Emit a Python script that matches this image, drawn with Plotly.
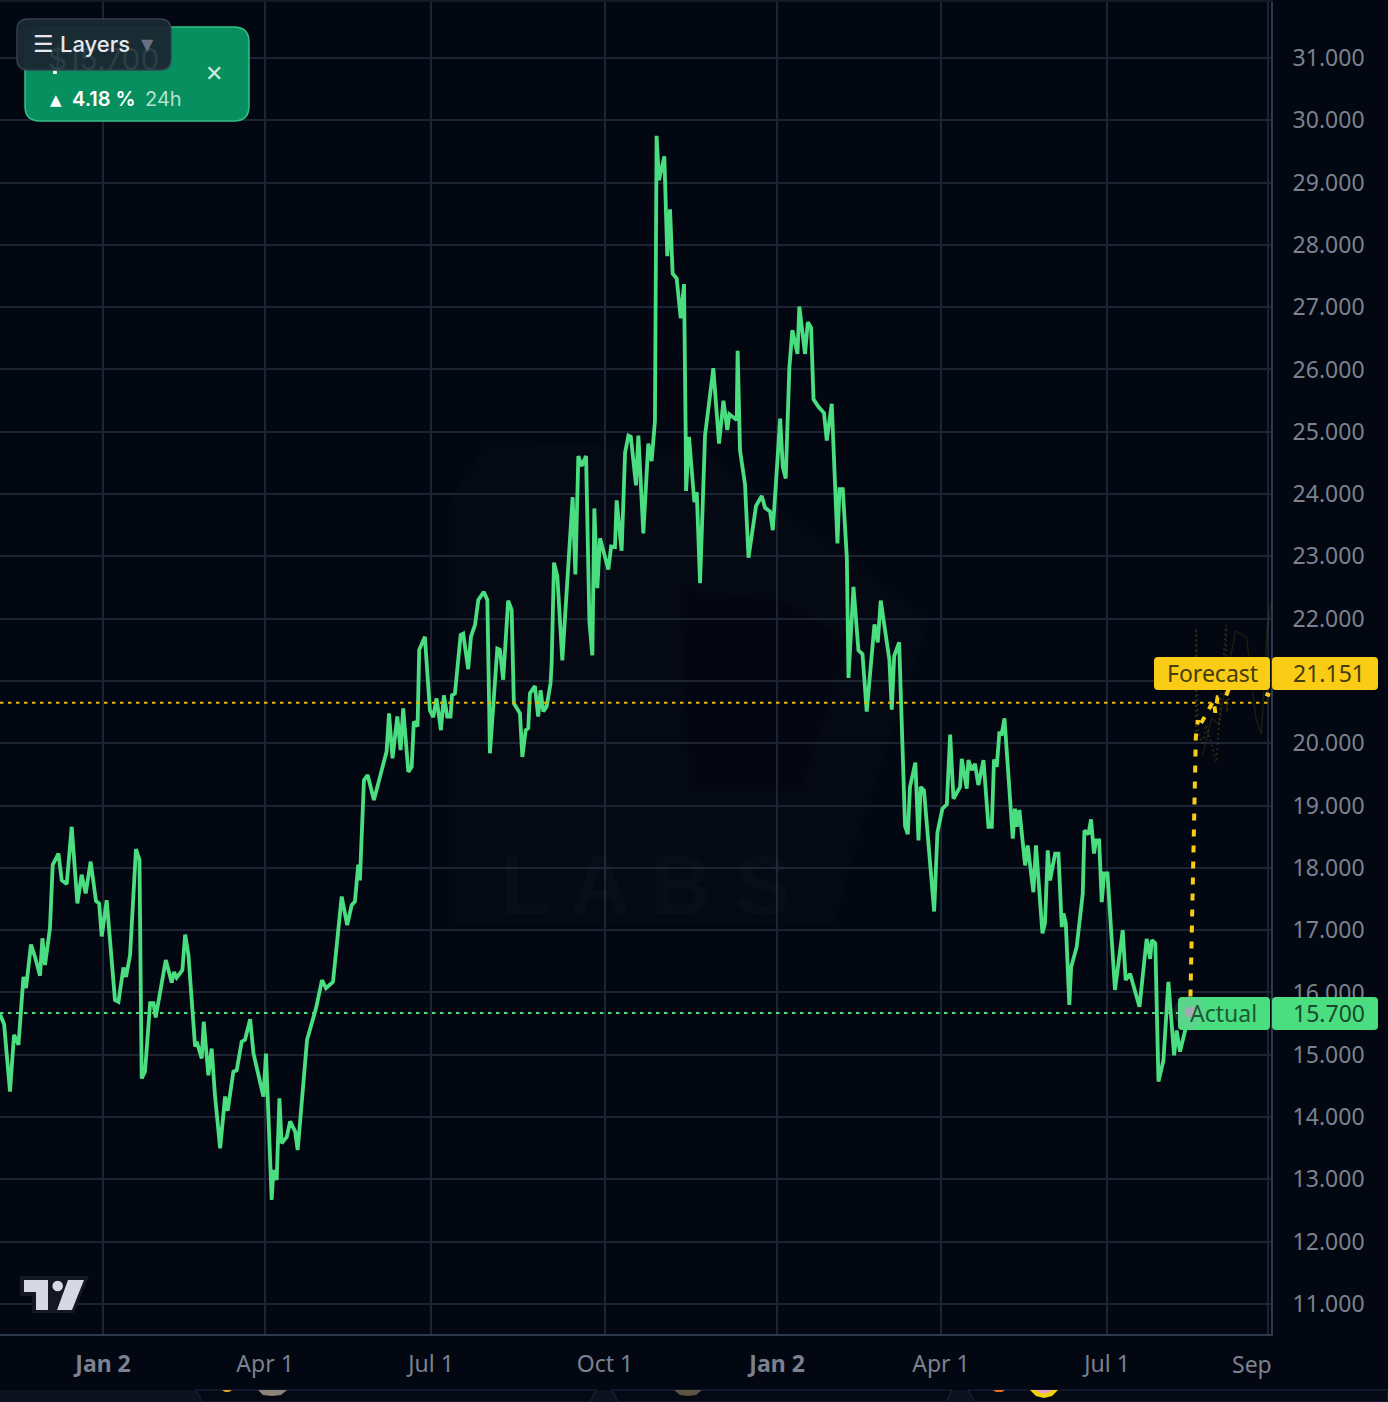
import plotly.graph_objects as go

# ---- data ----
actual_day = [-55.9,-53.7,-50.5,-48.3,-45.9,-43.2,-41.8,-39.1,-36.9,-34.2,-32.9,-31.5,-28.8,-27.3,-24.2,-22.4,-19.7,-17.0,-13.9,-11.6,-9.4,-6.7,-3.8,-2.1,-0.7,2.0,6.5,8.4,11.1,12.5,14.7,17.9,19.8,21.0,22.8,25.6,27.4,28.6,34.1,37.3,38.6,40.0,43.1,44.6,46.4,50.0,50.9,53.6,54.7,57.2,59.0,60.8,63.6,66.3,67.7,70.8,72.6,75.3,77.1,79.9,81.7,84.9,87.1,88.5,91.6,92.5,94.3,95.8,97.0,99.8,101.6,104.3,105.7,
110.8,112.4,115.7,118.9,121.1,124.9,126.8,129.6,132.6,135.0,136.8,138.6,139.5,141.7,143.7,147.1,154.0,155.3,157.2,159.8,161.6,163.0,165.8,167.6,168.8,170.8,171.7,174.8,177.5,179.3,181.1,183.5,185.1,186.9,188.7,189.5,191.1,194.2,195.6,198.3,199.8,202.0,203.8,206.8,208.7,210.1,214.1,215.5,217.3,220.0,221.9,223.1,226.4,227.7,229.5,230.9,231.8,234.5,236.3,237.6,239.1,240.9,243.0,
243.6,244.9,246.7,249.4,251.8,255.0,256.5,258.1,259.9,262.3,264.1,265.7,266.8,268.4,269.9,271.7,274.4,275.9,278.0,278.9,281.6,283.5,285.3,286.6,289.4,290.7,293.4,296.1,297.9,299.7,300.6,301.9,304.8,306.4,307.9,309.3,311.5,313.7,315.5,316.4,316.6,318.2,321.1,322.4,324.2,326.9,331.4,334.5,336.9,339.0,340.1,344.1,344.6,
345.9,348.6,350.5,354.6,357.7,359.5,362.2,363.7,367.7,369.1,370.7,372.7,374.3,377.1,378.1,381.2,382.7,384.5,385.8,388.5,391.5,393.0,395.7,398.8,399.9,401.7,403.9,404.8,407.5,410.2,412.4,414.7,418.9,420.7,422.3,427.0,428.3,429.6,432.3,433.7,435.5,437.0,438.2,441.1,442.8,444.0,445.8,451.3,453.1,455.8,458.2,460.0,461.8,465.4,
466.3,469.0,469.9,471.7,473.5,475.3,478.1,480.8,482.6,483.8,485.3,486.7,488.0,489.5,494.0,495.2,496.2,497.6,500.7,502.1,503.4,505.2,506.6,510.1,511.5,513.0,514.2,517.0,518.8,520.6,521.5,522.8,524.7,525.7,528.7,532.0,532.9,535.1,536.5,538.1,539.2,540.9,542.3,543.6,545.4,549.5,553.7,555.3,557.7,562.8,566.7,568.6,569.5,571.4,573.1,575.8,578.5,581.6,583.0,584.8,587.6,590.3]
actual_value = [15.65,15.49,14.41,15.32,15.16,16.25,16.07,16.77,16.57,16.27,16.87,16.44,17.03,18.05,18.23,17.80,17.74,18.66,17.43,17.89,17.59,18.10,17.47,17.43,16.90,17.48,15.88,15.85,16.40,16.25,16.60,18.30,18.13,14.62,14.73,15.83,15.83,15.60,16.52,16.16,16.33,16.24,16.36,16.93,16.60,15.13,15.21,14.94,15.53,14.67,15.10,14.35,13.50,14.33,14.10,14.73,14.75,15.21,15.24,15.57,15.02,14.57,14.33,15.02,12.67,13.15,12.99,14.30,13.58,13.68,13.93,13.77,13.47,
15.24,15.40,15.75,16.20,16.07,16.17,16.73,17.54,17.08,17.40,17.46,18.05,17.80,19.41,19.49,19.09,19.87,20.48,19.76,20.43,19.89,20.56,19.54,19.62,20.35,20.27,21.50,21.71,20.53,20.42,20.72,20.21,20.77,20.43,20.43,20.77,20.80,21.74,21.76,21.19,21.71,21.90,22.30,22.43,22.30,19.84,21.52,21.50,21.02,22.29,22.14,20.64,20.48,19.78,20.21,20.24,20.80,20.92,20.43,20.85,20.51,20.59,20.96,
21.27,22.90,22.68,21.33,22.46,23.95,22.71,24.61,24.45,24.61,21.96,21.41,23.77,22.49,23.29,23.07,22.79,23.16,23.15,23.90,23.09,24.67,24.94,24.92,24.14,24.94,23.37,24.81,24.53,25.17,29.75,29.04,29.42,27.82,28.57,27.54,27.46,26.82,27.37,24.94,24.05,24.92,23.87,24.03,22.57,24.94,26.02,24.81,25.50,25.03,25.28,25.19,26.30,
24.70,24.16,22.98,23.81,23.97,23.78,23.72,23.42,25.21,24.44,24.25,26.03,26.63,26.25,27.01,26.25,26.76,26.67,25.52,25.40,25.30,24.86,25.45,23.21,24.08,24.08,22.98,21.05,22.51,21.49,21.43,20.51,21.91,21.62,22.29,21.34,20.54,21.40,21.62,20.51,18.67,18.54,19.30,19.69,18.44,19.30,19.24,17.30,18.57,18.95,19.02,20.14,19.11,19.30,
19.75,19.27,19.73,19.57,19.67,19.33,19.73,18.66,18.66,19.74,19.62,20.16,20.15,20.40,18.47,18.95,18.66,18.93,18.04,18.36,18.02,17.61,18.36,16.95,17.11,18.28,17.80,18.23,18.23,17.05,17.27,17.11,15.80,16.41,16.73,17.59,18.60,18.54,18.78,18.23,18.44,18.44,17.45,17.91,17.91,16.04,17.00,16.20,16.30,15.77,16.86,16.54,16.84,16.79,14.57,14.91,16.17,14.99,15.39,15.05,15.39,15.68]

forecast_day = [590.3,593.4,594.5,595.0,599.5,603.0,604.0,605.2,609.5,613.0,620.0,626.0,629.3,633.7]
forecast_value = [15.68,20.10,20.37,20.26,20.49,20.69,20.49,20.74,20.74,21.00,21.15,21.05,20.81,20.77]

scenario_a_day = [593.4,593.6,594.5,597.0,599.0,604.5,609.8,610.2,612.0]
scenario_a_value = [20.10,21.85,20.20,20.00,20.30,19.70,21.90,20.50,20.90]
scenario_b_day = [597.0,602.0,606.0,611.0,615.0,621.0,626.0,629.0,632.0,634.5]
scenario_b_value = [19.80,20.40,20.30,21.20,21.80,21.70,20.40,20.15,21.80,22.30]

price_ticks = list(range(11, 32))
price_labels = [f"{v}.000" for v in price_ticks]
day_ticks = [0, 88, 178.1, 272.6, 366, 455, 545.2, 632.6]
day_labels = ["<b>Jan 2</b>", "Apr 1", "Jul 1", "Oct 1", "<b>Jan 2</b>", "Apr 1", "Jul 1", ""]
actual_level = 15.67
forecast_level = 20.65
actual_label = "15.700"
forecast_label = "21.151"

# ---- layout constants ----
W, H, PW, PH = 1388, 1402, 1273, 1335
BG = "#030712"
GRID = "#1c2332"
AXIS = "#2e394d"
GREEN = "#4ade80"
YELLOW = "#facc15"
TICK = "#7b818e"

def X(p): return p / PW
def Y(p): return 1 - p / PH

def poly(pts):
    return "M " + " L ".join(f"{X(a):.5f} {Y(b):.5f}" for a, b in pts) + " Z"

def rrect(x0, y0, x1, y1, r):
    def P(a, b): return f"{X(a):.5f} {Y(b):.5f}"
    return (f"M {P(x0+r,y0)} L {P(x1-r,y0)} Q {P(x1,y0)} {P(x1,y0+r)} L {P(x1,y1-r)} Q {P(x1,y1)} {P(x1-r,y1)} "
            f"L {P(x0+r,y1)} Q {P(x0,y1)} {P(x0,y1-r)} L {P(x0,y0+r)} Q {P(x0,y0)} {P(x0+r,y0)} Z")

def shape_path(path, fill, line=None, lw=0, layer="above"):
    return dict(type="path", xref="paper", yref="paper", path=path, fillcolor=fill,
                line=dict(color=line or "rgba(0,0,0,0)", width=lw), layer=layer)

def circle(cx, cy, r, fill):
    return dict(type="circle", xref="paper", yref="paper", x0=X(cx-r), x1=X(cx+r), y0=Y(cy+r), y1=Y(cy-r),
                fillcolor=fill, line=dict(width=0), layer="above")

def text(t, x, y, size, color, anchor="left", family="Noto Sans", weight=None):
    font = dict(size=size, color=color, family=family)
    if weight:
        font["weight"] = weight
    return dict(text=t, xref="paper", yref="paper", x=X(x), y=Y(y), xanchor=anchor, yanchor="middle",
                showarrow=False, font=font, borderpad=0, borderwidth=0)

fig = go.Figure()
fig.add_trace(go.Scatter(x=scenario_a_day, y=scenario_a_value, mode="lines", hoverinfo="skip",
                         line=dict(color="rgba(250,204,21,0.16)", width=2, dash="2px,3px")))
fig.add_trace(go.Scatter(x=scenario_b_day, y=scenario_b_value, mode="lines", hoverinfo="skip",
                         line=dict(color="rgba(250,204,21,0.10)", width=1.5)))
fig.add_trace(go.Scatter(x=actual_day, y=actual_value, mode="lines", name="Actual",
                         line=dict(color=GREEN, width=3.8)))
fig.add_trace(go.Scatter(x=forecast_day, y=forecast_value, mode="lines", name="Forecast",
                         line=dict(color=YELLOW, width=4, dash="7px,9px")))

shapes = [
    # faint watermark
    shape_path(poly([(450,500),(490,440),(700,450),(930,620),(860,830),(835,925),(450,925)]), "rgba(255,255,255,0.012)", layer="below"),
    shape_path(poly([(680,590),(780,600),(850,640),(800,790),(690,790)]), "rgba(0,0,0,0.12)", layer="below"),
    # price-level lines
    dict(type="line", xref="paper", yref="y", x0=0, x1=X(1178), y0=actual_level, y1=actual_level,
         line=dict(color=GREEN, width=2, dash="3.5px,4.5px"), layer="above"),
    dict(type="line", xref="paper", yref="y", x0=0, x1=X(1270), y0=forecast_level, y1=forecast_level,
         line=dict(color="#e3b80f", width=2, dash="3.5px,4.5px"), layer="above"),
    # axis borders
    dict(type="line", xref="paper", yref="paper", x0=X(1272), x1=X(1272), y0=Y(0), y1=Y(1335), line=dict(color=AXIS, width=2), layer="above"),
    dict(type="line", xref="paper", yref="paper", x0=0, x1=X(1273), y0=Y(1335), y1=Y(1335), line=dict(color=AXIS, width=2), layer="above"),
    dict(type="line", xref="paper", yref="paper", x0=0, x1=X(1273), y0=Y(1), y1=Y(1), line=dict(color="#131926", width=2), layer="above"),
    # price labels
    shape_path(rrect(1154,657,1270,690,4), YELLOW),
    shape_path(rrect(1272,657,1378,690,4), YELLOW),
    shape_path(rrect(1178,997,1270,1030,4), GREEN),
    shape_path(rrect(1272,997,1378,1030,4), GREEN),
    # last-price marker
    circle(1190,1012,16,"rgba(170,175,190,0.16)"),
    circle(1190,1012,5.5,"#a7a9b8"),
    # card
    shape_path(rrect(25,27,249,121,15), "#078f5f", "#33c08a", 1.5),
    shape_path(rrect(53,68,57,74,0.5), "#e6f5ee"),
    shape_path(rrect(17,19,171,70,11), "rgba(26,40,50,0.97)", "#343e52", 1.5),
    # TradingView mark
    shape_path(poly([(20,1276),(89,1276),(74,1313),(32,1313),(32,1296),(20,1296)]), "#141824"),
    shape_path(poly([(24,1280),(48,1280),(48,1310),(36,1310),(36,1292),(24,1292)]), "#d6d9e2"),
    circle(57.7,1286,5.3,"#d6d9e2"),
    shape_path(poly([(68,1280),(84,1280),(72,1310),(57,1310)]), "#d6d9e2"),
    # strip of the page below the chart (fragments clipped at its top edge)
    shape_path(poly([(0,1390),(1388,1390),(1388,1402),(0,1402)]), "#0c1220"),
    shape_path(poly([(196,1390),(596,1390),(590,1402),(203,1402)]), "#050914", "#1b2740", 1),
    shape_path(poly([(612,1390),(952,1390),(946,1402),(619,1402)]), "#050914", "#1b2740", 1),
    shape_path(poly([(968,1390),(1388,1390),(1388,1402),(975,1402)]), "#050914", "#1b2740", 1),
    shape_path(poly([(222,1390),(232,1390),(229,1392),(225,1392)]), "#e0a020"),
    shape_path(poly([(258,1390),(287,1390),(281,1395),(272,1396),(263,1395)]), "#8b8378"),
    shape_path(poly([(674,1390),(702,1390),(696,1395),(688,1396),(680,1395)]), "#5c5642"),
    shape_path(poly([(993,1390),(1005,1390),(1002,1392),(996,1392)]), "#e8701a"),
    shape_path(poly([(1030,1390),(1058,1390),(1052,1396),(1044,1398),(1036,1396)]), "#f2d20d"),
    shape_path(poly([(1036,1390),(1052,1390),(1048,1393),(1040,1393)]), "#e8a0c8"),
]
annotations = [
    text("L A B S", 645, 885, 84, "rgba(255,255,255,0.02)", "center", "Liberation Sans", 700),
    text("Forecast", 1212, 673, 23, "#463c0e", "center"),
    text(forecast_label, 1365, 673, 23, "#463c0e", "right"),
    text("Actual", 1223, 1013, 23, "#1a5a36", "center"),
    text(actual_label, 1365, 1013, 23, "#174a2e", "right"),
    text("Sep", 1252, 1364, 23, TICK, "center"),
    text("$15.700", 48, 59, 30, "rgba(58,78,88,0.55)", "left", "Inter"),
    text("☰", 44, 44, 23, "#e6e8ee", "center", "DejaVu Sans"),
    text("Layers", 60, 44, 22, "#e6e8ee", "left", "Inter", 500),
    text("▼", 147, 45, 16, "#6a7180", "center", "DejaVu Sans"),
    text("▲", 56, 100, 15, "#ffffff", "center", "DejaVu Sans"),
    text("4.18 %", 72, 99, 20, "#ffffff", "left", "Inter", 600),
    text("24h", 145, 99, 20, "#b2e3cd", "left", "Inter"),
    text("✕", 214, 73, 22, "#cdeadd", "center", "DejaVu Sans"),
]

fig.update_layout(
    width=W, height=H, autosize=False, showlegend=False,
    margin=dict(l=0, r=W-PW, t=0, b=H-PH, pad=0),
    paper_bgcolor=BG, plot_bgcolor=BG,
    font=dict(family="Noto Sans", color=TICK, size=23),
    shapes=shapes, annotations=annotations,
    xaxis=dict(range=[-55.93, 635.3], tickmode="array", tickvals=day_ticks, ticktext=day_labels,
               showgrid=True, gridcolor=GRID, gridwidth=2, zeroline=False, showline=False,
               ticks="outside", ticklen=8, tickcolor="rgba(0,0,0,0)", tickangle=0,
               tickfont=dict(size=23, color=TICK, family="Noto Sans"), fixedrange=True),
    yaxis=dict(side="right", range=[10.502, 31.931], tickmode="array", tickvals=price_ticks, ticktext=price_labels,
               showgrid=True, gridcolor=GRID, gridwidth=2, zeroline=False, showline=False,
               ticks="outside", ticklen=14, tickcolor="rgba(0,0,0,0)",
               tickfont=dict(size=23, color=TICK, family="Noto Sans"), fixedrange=True),
)

fig.write_html("out.html", config=dict(displayModeBar=False),
               post_script="document.body.style.margin='0';document.body.style.background='#030712';document.documentElement.style.overflow='hidden';")
